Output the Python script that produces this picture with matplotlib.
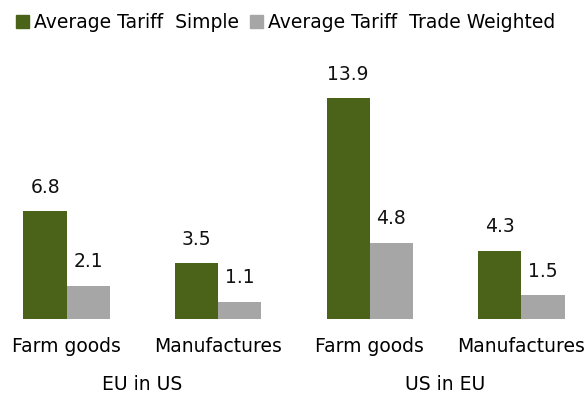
import numpy as np
import matplotlib.pyplot as plt
from matplotlib.patches import Patch

categories = ["Farm goods", "Manufactures", "Farm goods", "Manufactures"]
groups = ["EU in US", "US in EU"]
simple = [6.8, 3.5, 13.9, 4.3]
weighted = [2.1, 1.1, 4.8, 1.5]

green = "#4b6318"
gray = "#a6a6a6"
fs = 13.5

fig = plt.figure(figsize=(5.88, 3.94), dpi=100)
ax = fig.add_axes([0.0, 0.19, 1.0, 0.66])

x = np.arange(len(categories))
w = 0.285
b1 = ax.bar(x - w / 2, simple, w, color=green)
b2 = ax.bar(x + w / 2, weighted, w, color=gray)

for bars in (b1, b2):
    for r in bars:
        ax.text(r.get_x() + r.get_width() / 2, r.get_height() + 0.9, f"{r.get_height():.1f}",
                ha="center", va="bottom", fontsize=fs, color="#111111")

ax.set_xlim(-0.44, 3.44)
ax.set_ylim(0, 16.35)
ax.set_xticks(x)
ax.set_xticklabels(categories, fontsize=fs)
ax.tick_params(axis="x", length=0, pad=13)
ax.set_yticks([])
for s in ax.spines.values():
    s.set_visible(False)

for i, g in enumerate(groups):
    ax.text(0.5 + 2 * i, -0.25, g, transform=ax.get_xaxis_transform(),
            ha="center", va="center", fontsize=fs)

handles = [Patch(color=green, label="Average Tariff  Simple"),
           Patch(color=gray, label="Average Tariff  Trade Weighted")]
fig.legend(handles=handles, loc="upper left", bbox_to_anchor=(0.005, 1.0), ncol=2,
           frameon=False, fontsize=fs, handlelength=0.7, handleheight=0.7,
           handletextpad=0.25, columnspacing=0.6, borderaxespad=0.3)

fig.savefig("out.png", dpi=100)
